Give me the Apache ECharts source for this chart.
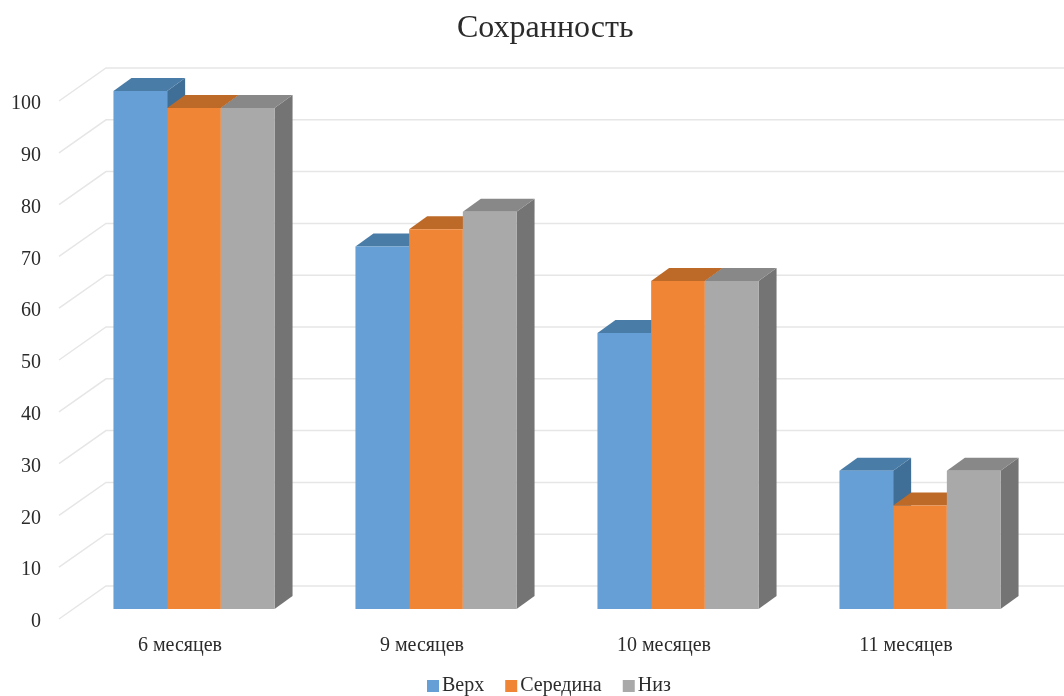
<!DOCTYPE html>
<html>
<head>
<meta charset="utf-8">
<style>html,body{margin:0;padding:0;background:#fff}#chart{width:1064px;height:696px}</style>
<script src="https://cdn.jsdelivr.net/npm/echarts@6/dist/echarts.min.js"></script>
</head>
<body>
<div id="chart"></div>
<script>
// Share of preserved material by storage period and layer
const categories = ['6 месяцев', '9 месяцев', '10 месяцев', '11 месяцев'];
const verh = [100, 70, 53.3, 26.7];
const seredina = [96.7, 73.3, 63.3, 20];
const niz = [96.7, 76.7, 63.3, 26.7];
const yTicks = [0, 10, 20, 30, 40, 50, 60, 70, 80, 90, 100];

// Pseudo-3D projection offsets, in pixels
const WALL_DX = 47, WALL_DY = 33;    // front plane to back wall
const ROW_DX = 14, ROW_DY = 10;      // front plane to the bars' front faces
const BAR_DX = 18, BAR_DY = 13;      // depth of a single bar
const BAR_SHARE = 53.7 / 242;        // bar width as a share of the category band

const FONT = '"Liberation Serif", "Times New Roman", serif';
const TEXT = '#2b2b2b';

function wallLine(params, api) {
  const cs = params.coordSys;
  const y = api.coord([0, api.value(0)])[1];
  return {
    type: 'polyline',
    silent: true,
    shape: { points: [[cs.x, y], [cs.x + WALL_DX, y - WALL_DY], [cs.x + cs.width + WALL_DX, y - WALL_DY]] },
    style: { stroke: '#e6e6e6', lineWidth: 1.5, fill: null }
  };
}

function barRenderer(slot, front, top, side) {
  return function (params, api) {
    const p = api.coord([api.value(0), api.value(1)]);
    const b = api.coord([api.value(0), 0]);
    const w = api.size([1, 0])[0] * BAR_SHARE;
    const x = p[0] + ROW_DX + (slot - 1.5) * w;
    const r = x + w;
    const yT = p[1] - ROW_DY;
    const yB = b[1] - ROW_DY;
    return {
      type: 'group',
      children: [
        { type: 'polygon', shape: { points: [[r, yT], [r + BAR_DX, yT - BAR_DY], [r + BAR_DX, yB - BAR_DY], [r, yB]] }, style: { fill: side } },
        { type: 'polygon', shape: { points: [[x, yT], [x + BAR_DX, yT - BAR_DY], [r + BAR_DX, yT - BAR_DY], [r, yT]] }, style: { fill: top } },
        { type: 'rect', shape: { x: x, y: yT, width: w, height: yB - yT }, style: { fill: front } }
      ]
    };
  };
}

function barSeries(name, values, slot, front, top, side) {
  return {
    type: 'custom',
    name: name,
    coordinateSystem: 'cartesian2d',
    itemStyle: { color: front },
    encode: { x: 0, y: 1 },
    data: values.map((v, i) => [i, v]),
    renderItem: barRenderer(slot, front, top, side),
    z: 3 + slot
  };
}

const chart = echarts.init(document.getElementById('chart'), null, { renderer: 'canvas' });
chart.setOption({
  animation: false,
  backgroundColor: '#ffffff',
  title: {
    text: 'Сохранность',
    left: 452,
    top: 8,
    textStyle: { fontFamily: FONT, fontSize: 32, fontWeight: 'normal', color: TEXT }
  },
  legend: {
    data: ['Верх', 'Середина', 'Низ'],
    left: 422,
    top: 671,
    icon: 'rect',
    itemWidth: 12,
    itemHeight: 12,
    itemGap: 21,
    textStyle: { fontFamily: FONT, fontSize: 20, color: TEXT, padding: [0, 0, 0, -2] }
  },
  grid: { left: 59, top: 101, width: 968, height: 518 },
  xAxis: {
    type: 'category',
    data: categories,
    axisLine: { show: false },
    axisTick: { show: false },
    axisLabel: { fontFamily: FONT, fontSize: 20, color: TEXT, margin: 17 }
  },
  yAxis: {
    type: 'value',
    min: 0,
    max: 100,
    interval: 10,
    axisLine: { show: false },
    axisTick: { show: false },
    splitLine: { show: false },
    axisLabel: { fontFamily: FONT, fontSize: 20, color: TEXT, margin: 18, verticalAlign: 'top', lineHeight: 6 }
  },
  series: [
    {
      type: 'custom',
      name: 'wall',
      coordinateSystem: 'cartesian2d',
      encode: { y: 0 },
      data: yTicks.map(v => [v]),
      renderItem: wallLine,
      silent: true,
      z: 1
    },
    barSeries('Верх', verh, 0, '#659fd6', '#4a7ca8', '#3f6e96'),
    barSeries('Середина', seredina, 1, '#f08536', '#bd6a28', '#a85d22'),
    barSeries('Низ', niz, 2, '#a9a9a9', '#888888', '#747474')
  ]
});
</script>
</body>
</html>
